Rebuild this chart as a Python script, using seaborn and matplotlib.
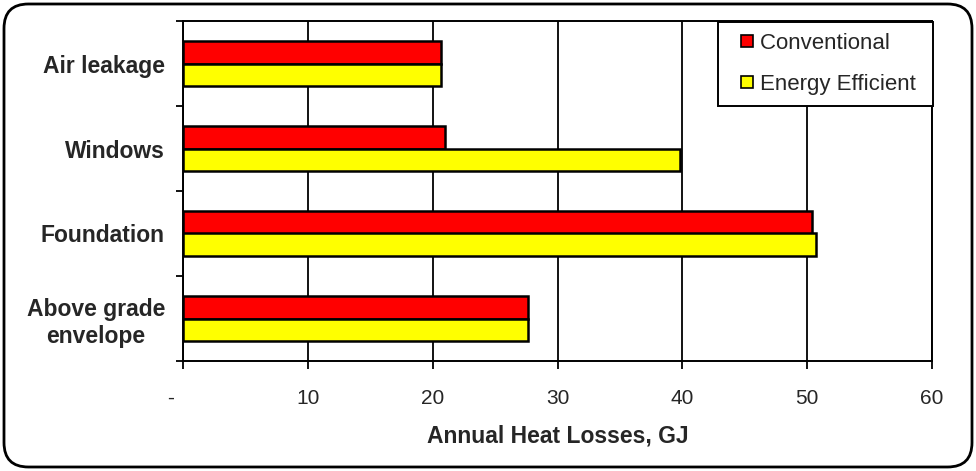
import matplotlib
matplotlib.use("Agg")
import matplotlib.pyplot as plt
from matplotlib.patches import FancyBboxPatch
from matplotlib.lines import Line2D
import pandas as pd
import seaborn as sns

# Annual heat losses by component (GJ)
categories = ["Air leakage", "Windows", "Foundation", "Above grade\nenvelope"]
conventional = [20.7, 21.0, 50.4, 27.6]
energy_efficient = [20.7, 39.8, 50.7, 27.6]
series_names = ["Conventional", "Energy Efficient"]
series_colors = ["#FF0000", "#FFFF00"]
x_ticks = [0, 10, 20, 30, 40, 50, 60]
x_tick_labels = ["-    ", "10", "20", "30", "40", "50", "60"]

df = pd.DataFrame({
    "component": categories * 2,
    "loss": conventional + energy_efficient,
    "house": [series_names[0]] * len(categories) + [series_names[1]] * len(categories),
})

sns.set_style("white")
plt.rcParams["font.family"] = ["Liberation Sans", "DejaVu Sans"]

fig = plt.figure(figsize=(9.76, 4.71), dpi=100)
ax = fig.add_axes([183 / 976, 1 - 361 / 471, (932 - 183) / 976, (361 - 21) / 471])

sns.barplot(
    data=df, y="component", x="loss", hue="house",
    order=categories, hue_order=series_names,
    palette=series_colors, orient="h", width=0.54,
    edgecolor="black", linewidth=1.8, saturation=1, ax=ax, legend=False,
)

ax.set_xlim(0, 60)
ax.set_ylim(3.5, -0.5)
ax.set_xticks(x_ticks)
ax.set_xticklabels(x_tick_labels, fontsize=15)
ax.tick_params(axis="x", direction="out", length=6, width=1.3, color="black", pad=14, bottom=True)

# category labels centered in bands, tick marks on band boundaries
ax.set_yticks(range(len(categories)))
ax.set_yticklabels(categories, fontsize=16.5, fontweight="bold", multialignment="center")
ax.tick_params(axis="y", which="major", length=0, pad=13)
ax.set_yticks([i - 0.5 for i in range(len(categories) + 1)], minor=True)
ax.tick_params(axis="y", which="minor", direction="out", length=5, width=1.3, color="black", left=True)

ax.set_xlabel("Annual Heat Losses, GJ", fontsize=16.5, fontweight="bold", labelpad=12)
ax.set_ylabel("")

ax.set_axisbelow(True)
ax.grid(axis="x", color="black", linewidth=1.3)
ax.grid(axis="y", visible=False)
for side, sp in ax.spines.items():
    sp.set_visible(True)
    sp.set_color("black")
    sp.set_linewidth(1.4)

# legend with small square swatches
handles = [
    Line2D([], [], linestyle="none", marker="s", markersize=8.5,
           markerfacecolor=c, markeredgecolor="black", markeredgewidth=1.2)
    for c in series_colors
]
leg = ax.legend(
    handles, [n + " " for n in series_names], loc="upper right",
    bbox_to_anchor=(1.002, 0.997),
    borderaxespad=0, fancybox=False, framealpha=1, edgecolor="black",
    fontsize=16, handlelength=1.6, handletextpad=-0.2,
    labelspacing=0.88, borderpad=0.5,
)
leg.get_frame().set_linewidth(1.4)

# rounded outer border of the chart
border = FancyBboxPatch(
    (4 / 976, 4 / 471), 1 - 8 / 976, 1 - 8 / 471,
    boxstyle="round,pad=0,rounding_size=0.025",
    transform=fig.transFigure, facecolor="none", edgecolor="black",
    linewidth=2, mutation_aspect=976 / 471,
)
fig.patches.append(border)

fig.savefig("out.png", dpi=100)
